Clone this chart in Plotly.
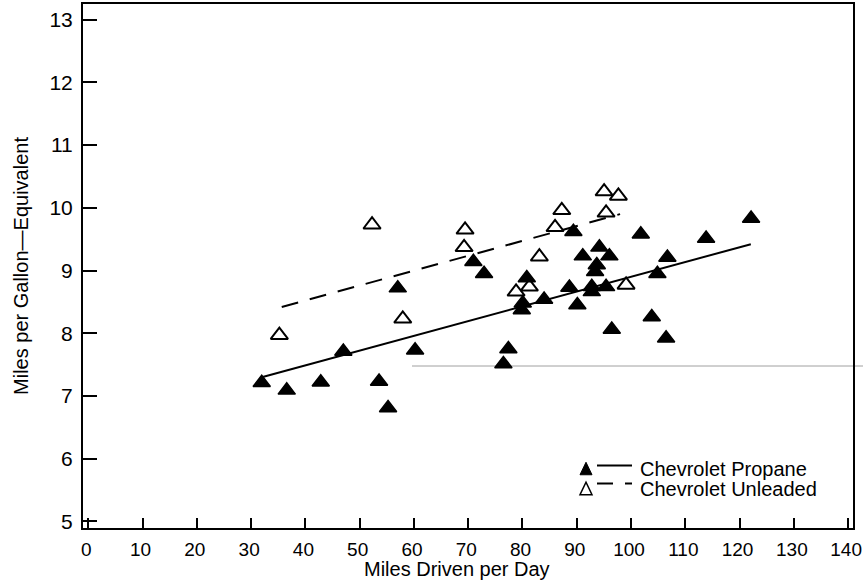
import plotly.graph_objects as go

# ---- data ----
propane_x = [31.95, 36.56, 42.83, 46.99, 53.57, 55.23, 57.02, 60.21, 70.95, 72.92,
             76.48, 77.40, 79.87, 80.05, 80.79, 83.98, 88.64, 89.38, 90.11, 91.11,
             92.77, 92.77, 93.38, 93.69, 94.17, 95.40, 96.01, 96.45, 101.80, 103.82,
             104.86, 106.46, 106.70, 113.83, 122.12]
propane_y = [7.21, 7.09, 7.22, 7.71, 7.23, 6.81, 8.72, 7.73, 9.14, 8.95,
             7.51, 7.75, 8.37, 8.48, 8.88, 8.54, 8.73, 9.62, 8.45, 9.23,
             8.66, 8.74, 8.98, 9.09, 9.37, 8.74, 9.23, 8.06, 9.58, 8.26,
             8.95, 7.92, 9.21, 9.51, 9.83]

unleaded_x = [35.20, 52.28, 57.94, 69.24, 69.42, 78.82, 81.27, 83.11, 86.00, 87.24,
              95.04, 95.40, 97.67, 99.09]
unleaded_y = [7.97, 9.73, 8.23, 9.37, 9.65, 8.66, 8.74, 9.22, 9.69, 9.96,
              10.26, 9.92, 10.19, 8.77]

propane_fit_x = [31.95, 122.07]
propane_fit_y = [7.30, 9.42]
unleaded_fit_x = [35.64, 97.98]
unleaded_fit_y = [8.42, 9.90]

x_ticks = list(range(0, 141, 10))
y_ticks = list(range(5, 14))

series_names = ["Chevrolet Propane", "Chevrolet Unleaded"]
x_title = "Miles Driven per Day"
y_title = "Miles per Gallon\u2014Equivalent"

# ---- layout geometry (pixels) ----
W, H = 863, 582
L, R, T, B = 83, 853, 4, 528
PW, PH = R - L, B - T

def pxx(x):
    return (x - L) / PW

def pxy(y):
    return (B - y) / PH

FONT = "Liberation Sans, Arial, Helvetica, sans-serif"

fig = go.Figure()

fig.add_trace(go.Scatter(x=propane_fit_x, y=propane_fit_y, mode="lines",
                         line=dict(color="black", width=2), showlegend=False,
                         hoverinfo="skip"))
fig.add_trace(go.Scatter(x=unleaded_fit_x, y=unleaded_fit_y, mode="lines",
                         line=dict(color="black", width=2, dash="17px,12px"),
                         showlegend=False, hoverinfo="skip"))
fig.add_trace(go.Scatter(x=unleaded_x, y=unleaded_y, mode="markers",
                         name=series_names[1], showlegend=False,
                         marker=dict(symbol="triangle-up", size=15, color="white",
                                     line=dict(color="black", width=2))))
fig.add_trace(go.Scatter(x=propane_x, y=propane_y, mode="markers",
                         name=series_names[0], showlegend=False,
                         marker=dict(symbol="triangle-up", size=15, color="black",
                                     line=dict(color="black", width=1.5))))

shapes = []
# faint gray horizontal scan line
shapes.append(dict(type="line", xref="paper", yref="paper",
                   x0=pxx(412), x1=pxx(863), y0=pxy(366), y1=pxy(366),
                   line=dict(color="#a0a0a0", width=1), layer="below"))

# custom legend (marker then line, as in the reference)
def tri_path(cx, cy, w, h):
    return (f"M {pxx(cx - w/2)} {pxy(cy + h/2)} L {pxx(cx + w/2)} {pxy(cy + h/2)} "
            f"L {pxx(cx)} {pxy(cy - h/2)} Z")

shapes.append(dict(type="path", xref="paper", yref="paper",
                   path=tri_path(586, 468.5, 12, 12.5),
                   fillcolor="black", line=dict(color="black", width=1)))
shapes.append(dict(type="line", xref="paper", yref="paper",
                   x0=pxx(597), x1=pxx(632), y0=pxy(465.5), y1=pxy(465.5),
                   line=dict(color="black", width=2)))
shapes.append(dict(type="path", xref="paper", yref="paper",
                   path=tri_path(586, 488.5, 12, 12.5),
                   fillcolor="white", line=dict(color="black", width=1.5)))
shapes.append(dict(type="line", xref="paper", yref="paper",
                   x0=pxx(597), x1=pxx(613), y0=pxy(483.5), y1=pxy(483.5),
                   line=dict(color="black", width=2)))
shapes.append(dict(type="line", xref="paper", yref="paper",
                   x0=pxx(625), x1=pxx(632), y0=pxy(483.5), y1=pxy(483.5),
                   line=dict(color="black", width=2)))

annotations = [
    dict(text=series_names[0], xref="paper", yref="paper", x=pxx(638), y=pxy(468.5),
         xanchor="left", yanchor="middle", showarrow=False,
         font=dict(family=FONT, size=20, color="black")),
    dict(text=series_names[1], xref="paper", yref="paper", x=pxx(638), y=pxy(488.5),
         xanchor="left", yanchor="middle", showarrow=False,
         font=dict(family=FONT, size=20, color="black")),
    # x-axis title placed where the reference has it
    dict(text=x_title, xref="paper", yref="paper", x=pxx(457), y=pxy(569),
         xanchor="center", yanchor="middle", showarrow=False,
         font=dict(family=FONT, size=20, color="black")),
]

fig.update_layout(
    width=W, height=H,
    margin=dict(l=L, r=W - R, t=T, b=H - B, autoexpand=False),
    paper_bgcolor="white", plot_bgcolor="white",
    font=dict(family=FONT, size=20, color="black"),
    showlegend=False,
    shapes=shapes,
    annotations=annotations,
)

fig.update_xaxes(range=[-0.98, 140.9], tickvals=x_ticks, ticks="inside", ticklen=10,
                 tickwidth=1.8, tickcolor="black", showline=True, linecolor="black",
                 linewidth=2, mirror=True, showgrid=False, zeroline=False,
                 tickfont=dict(family=FONT, size=19, color="black"),
                 ticklabeloverflow="allow",
                 ticklabelshift=-2,
                 ticklabelstandoff=3)
fig.update_yaxes(range=[4.895, 13.25], tickvals=y_ticks, ticks="inside", ticklen=14,
                 tickwidth=1.8, tickcolor="black", showline=True, linecolor="black",
                 linewidth=2, mirror=True, showgrid=False, zeroline=False,
                 tickfont=dict(family=FONT, size=21, color="black"),
                 ticklabelstandoff=4,
                 title=dict(text=y_title, standoff=15,
                            font=dict(family=FONT, size=20, color="black")))

fig.write_html(
    "out.html",
    config={"displayModeBar": False},
    post_script="document.body.style.margin='0';document.body.style.overflow='hidden';",
)
